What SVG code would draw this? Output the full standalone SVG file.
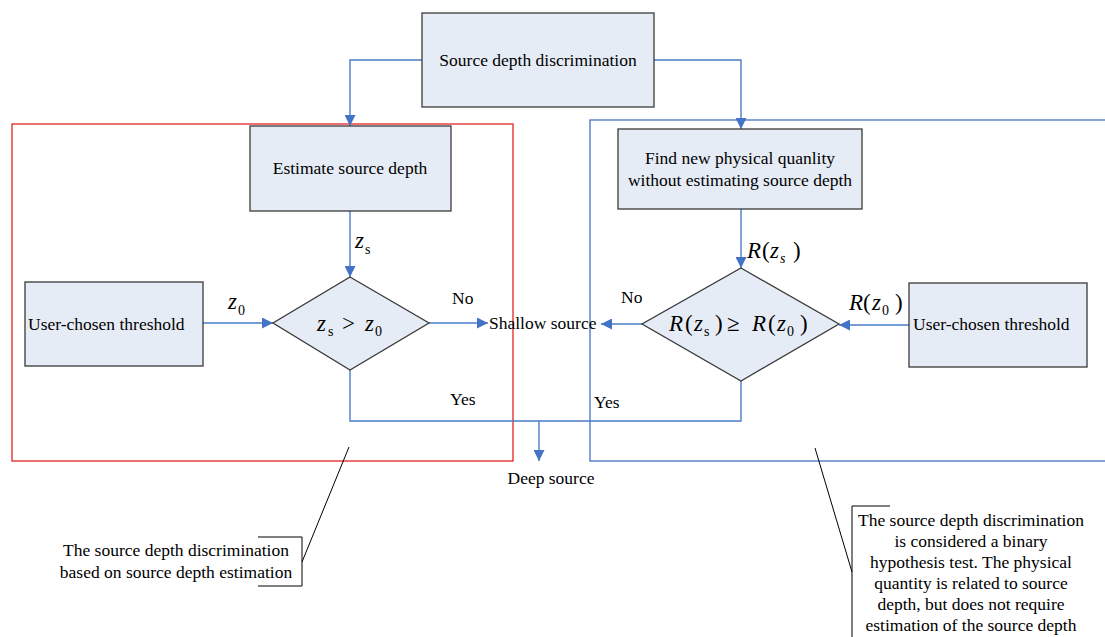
<svg xmlns="http://www.w3.org/2000/svg" width="1105" height="637" viewBox="0 0 1105 637">
<style>
.box{fill:#e6ecf6;stroke:#3a3a3a;stroke-width:1.3}
.t{font-family:"Liberation Serif","Times New Roman",serif;font-size:17.5px;fill:#000}
.m{font-family:"Liberation Serif","Times New Roman",serif;fill:#000;font-size:23px}
.i{font-style:italic}
.sub{font-size:14px}
.c{fill:none;stroke:#4a7cc9;stroke-width:1.4}
.k{fill:none;stroke:#000;stroke-width:1}
</style>
<defs>
<marker id="ah" viewBox="0 0 10 10" refX="10" refY="5" markerWidth="11" markerHeight="11" markerUnits="userSpaceOnUse" orient="auto">
<path d="M0,0 L10,5 L0,10 z" fill="#4472c4"/>
</marker>
</defs>
<rect width="1105" height="637" fill="#fff"/>
<g id="frames">
<rect x="12" y="124" width="501" height="337" fill="none" stroke="#e02424" stroke-width="1.3"/>
<rect x="590" y="120" width="540" height="341" fill="none" stroke="#4472c4" stroke-width="1.3"/>
</g>
<g id="connectors">
<path class="c" d="M422,60 H350 V126" marker-end="url(#ah)"/>
<path class="c" d="M654,60 H741 V129" marker-end="url(#ah)"/>
<path class="c" d="M350,211 V277" marker-end="url(#ah)"/>
<path class="c" d="M203,323 H273" marker-end="url(#ah)"/>
<path class="c" d="M429,323 H488" marker-end="url(#ah)"/>
<path class="c" d="M741,209 V268" marker-end="url(#ah)"/>
<path class="c" d="M909,325 H839" marker-end="url(#ah)"/>
<path class="c" d="M642,324 H601" marker-end="url(#ah)"/>
<path class="c" d="M350,370 V421 H741 V381"/>
<path class="c" d="M539,421 V461" marker-end="url(#ah)"/>
</g>
<g id="node-top">
<rect class="box" x="422" y="13" width="232" height="94"/>
<text class="t" x="538" y="66" text-anchor="middle">Source depth discrimination</text>
</g>
<g id="node-estimate">
<rect class="box" x="250" y="126" width="201" height="85"/>
<text class="t" x="350" y="174" text-anchor="middle">Estimate source depth</text>
</g>
<g id="node-find">
<rect class="box" x="618" y="129" width="244" height="80"/>
<text class="t" x="740" y="164" text-anchor="middle">Find new physical quanlity</text>
<text class="t" x="740" y="186" text-anchor="middle">without estimating source depth</text>
</g>
<g id="node-user-left">
<rect class="box" x="25" y="282" width="178" height="84"/>
<text class="t" x="28" y="330">User-chosen threshold</text>
</g>
<g id="node-user-right">
<rect class="box" x="909" y="283" width="178" height="84"/>
<text class="t" x="913" y="330">User-chosen threshold</text>
</g>
<g id="node-diamond-left">
<polygon class="box" points="350,277 429,323 350,370 273,323"/>
<text class="m" y="331"><tspan class="i" x="317">z</tspan><tspan class="sub" x="328" dy="5">s</tspan><tspan x="342" dy="-5">&gt;</tspan><tspan class="i" x="365">z</tspan><tspan class="sub" x="375" dy="5">0</tspan></text>
</g>
<g id="node-diamond-right">
<polygon class="box" points="741,268 839,324 741,381 642,324"/>
<text class="m" y="331"><tspan class="i" x="669">R</tspan><tspan x="685">(</tspan><tspan class="i" x="694">z</tspan><tspan class="sub" x="704" dy="5">s</tspan><tspan x="715" dy="-5">)</tspan><tspan x="727">≥</tspan><tspan class="i" x="752">R</tspan><tspan x="768">(</tspan><tspan class="i" x="777">z</tspan><tspan class="sub" x="787" dy="5">0</tspan><tspan x="800" dy="-5">)</tspan></text>
</g>
<g id="labels">
<text class="m" y="248"><tspan class="i" x="355">z</tspan><tspan class="sub" x="365" dy="6">s</tspan></text>
<text class="m" y="309"><tspan class="i" x="228">z</tspan><tspan class="sub" x="238" dy="6">0</tspan></text>
<text class="m" y="258"><tspan class="i" x="747">R</tspan><tspan x="762">(</tspan><tspan class="i" x="770">z</tspan><tspan class="sub i" x="780" dy="5">s</tspan><tspan x="793" dy="-5">)</tspan></text>
<text class="m" y="310"><tspan class="i" x="849">R</tspan><tspan x="863">(</tspan><tspan class="i" x="872">z</tspan><tspan class="sub" x="882" dy="5">0</tspan><tspan x="895" dy="-5">)</tspan></text>
<text class="t" x="452" y="304">No</text>
<text class="t" x="621" y="303">No</text>
<text class="t" x="450" y="405">Yes</text>
<text class="t" x="594" y="408">Yes</text>
<text class="t" x="489" y="329">Shallow source</text>
<text class="t" x="551" y="484" text-anchor="middle">Deep source</text>
</g>
<g id="callout-left">
<path class="k" d="M349,447 L302,562"/>
<path class="k" d="M258,537 H302 V586 H258"/>
<text class="t" x="176" y="556" text-anchor="middle">The source depth discrimination</text>
<text class="t" x="176" y="578" text-anchor="middle">based on source depth estimation</text>
</g>
<g id="callout-right">
<path class="k" d="M815,448 L852,572"/>
<path class="k" d="M890,506 H852 V640"/>
<text class="t" x="971" y="526" text-anchor="middle">The source depth discrimination</text>
<text class="t" x="971" y="547" text-anchor="middle">is considered a binary</text>
<text class="t" x="971" y="568" text-anchor="middle">hypothesis test. The physical</text>
<text class="t" x="971" y="589" text-anchor="middle">quantity is related to source</text>
<text class="t" x="971" y="610" text-anchor="middle">depth, but does not require</text>
<text class="t" x="971" y="631" text-anchor="middle">estimation of the source depth</text>
</g>
</svg>
